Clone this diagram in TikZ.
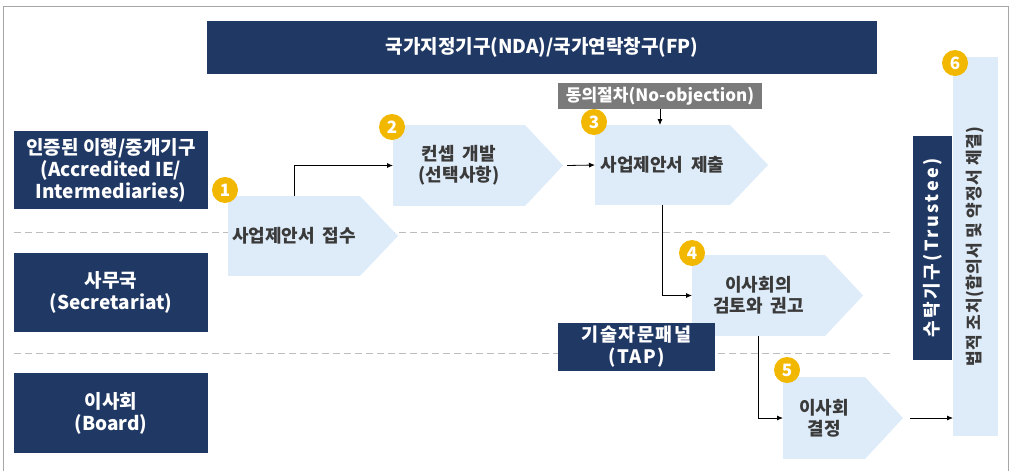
\documentclass[tikz,border=0pt]{standalone}
\usepackage{fontspec}
\setmainfont{Noto Sans CJK KR}
\usetikzlibrary{arrows.meta}

\definecolor{navy}{HTML}{203864}
\definecolor{chevblue}{HTML}{DEEBF8}
\definecolor{gold}{HTML}{F2B800}
\definecolor{boxgray}{HTML}{7A7A7A}
\definecolor{dashgray}{HTML}{BDBDBD}
\definecolor{framegray}{HTML}{A6A6A6}
\definecolor{chevtext}{HTML}{3A3A3A}

\newcommand\widewords{\spaceskip=8pt plus 2pt\relax}

\tikzset{
  navybox/.style={fill=navy, text=white, align=center, inner sep=0pt, outer sep=0pt,
    font=\bfseries\fontsize{19}{22}\selectfont},
  chev/.style={fill=chevblue, text=chevtext, align=center, inner sep=0pt, outer sep=0pt,
    font=\bfseries\fontsize{18}{21}\selectfont\widewords},
  badge/.style={circle, fill=gold, text=white, inner sep=0pt, minimum size=26pt,
    font=\bfseries\fontsize{17}{17}\selectfont},
  link/.style={-{Latex[length=6pt,width=5pt]}, line width=0.8pt},
  lane/.style={dashgray, line width=1pt, dash pattern=on 7pt off 4pt}
}

\begin{document}
\begin{tikzpicture}[x=1pt,y=-1pt]
  \useasboundingbox (0,0) rectangle (1011,471);

  % Outer frame
  \draw[framegray, line width=1pt] (3,471) -- (3,6) -- (1008,6) -- (1008,471);

  % Lane separators
  \draw[lane] (14,232) -- (890,232);
  \draw[lane] (14,353) -- (890,353);

  % Top bar
  \node[navybox, minimum width=670pt, minimum height=53pt] (nda) at (542,47.5)
    {국가지정기구(NDA)/국가연락창구(FP)};

  % Lane labels
  \node[navybox, minimum width=194pt, minimum height=78pt] (ae) at (111,170)
    {인증된 이행/중개기구\\(Accredited IE/\\Intermediaries)};
  \node[navybox, minimum width=194pt, minimum height=79pt] (sec) at (111,292.5)
    {사무국\\(Secretariat)};
  \node[navybox, minimum width=194pt, minimum height=80pt] (board) at (111,413)
    {이사회\\(Board)};

  % Process steps
  \node[chev, minimum width=132pt, minimum height=80pt] (c1) at (294,236) {사업제안서 접수};
  \node[chev, minimum width=132pt, minimum height=81pt] (c2) at (459,165.5) {컨셉 개발\\(선택사항)};
  \node[chev, minimum width=135pt, minimum height=80pt] (c3) at (662.5,165) {사업제안서 제출};
  \node[chev, minimum width=133pt, minimum height=81pt] (c4) at (758.5,295.5) {이사회의\\검토와 권고};
  \node[chev, minimum width=82pt, minimum height=82pt] (c5) at (824,418) {이사회\\결정};

  % Pointers of the steps
  \foreach \c in {c1,c2,c3,c4,c5} {
    \fill[chevblue] (\c.north east) -- ([xshift=38pt]\c.east) -- (\c.south east) -- cycle;
    \coordinate (\c tip) at ([xshift=38pt]\c.east);
  }

  % Side boxes
  \node[navybox, minimum width=157pt, minimum height=48pt,
    font=\bfseries\fontsize{18.5}{22}\selectfont\addfontfeatures{LetterSpace=8}] (tap) at (636.5,347)
    {기술자문패널\\(TAP)};
  \node[fill=boxgray, text=white, inner sep=0pt, minimum width=204pt, minimum height=26pt,
    font=\bfseries\fontsize{17}{18}\selectfont] (noobj) at (660,96) {동의절차(No-objection)};

  % Trustee and legal arrangements
  \node[navybox, rotate=90, minimum width=224pt, minimum height=39pt,
    font=\bfseries\fontsize{18}{20}\selectfont\addfontfeatures{LetterSpace=14}] (trustee) at (932.5,248)
    {수탁기구(Trustee)};
  \node[chev, rotate=90, minimum width=379pt, minimum height=45pt,
    font=\bfseries\fontsize{17}{20}\selectfont\addfontfeatures{LetterSpace=3}] (legal) at (975.5,246.5)
    {법적 조치(합의서 및 약정서 체결)};

  % Connectors
  \draw[link] (c1.north) |- (c2.west);
  \draw[link] ([xshift=4pt]c2tip) -- (c3.west);
  \draw[link] (noobj.south) -- (noobj.south |- c3.north);
  \draw[link] (c3.south) |- (c4.west);
  \draw[link] (c4.south) |- (c5.west);
  \draw[link] ([xshift=7pt]c5tip) -- (c5tip -| legal.north);

  % Step numbers
  \node[badge] (b1) at (225,190) {1};
  \node[badge] (b2) at (392,127) {2};
  \node[badge] (b3) at (594,122) {3};
  \node[badge] (b4) at (692,253) {4};
  \node[badge] (b5) at (787,370) {5};
  \node[badge] (b6) at (955,63) {6};
\end{tikzpicture}
\end{document}
